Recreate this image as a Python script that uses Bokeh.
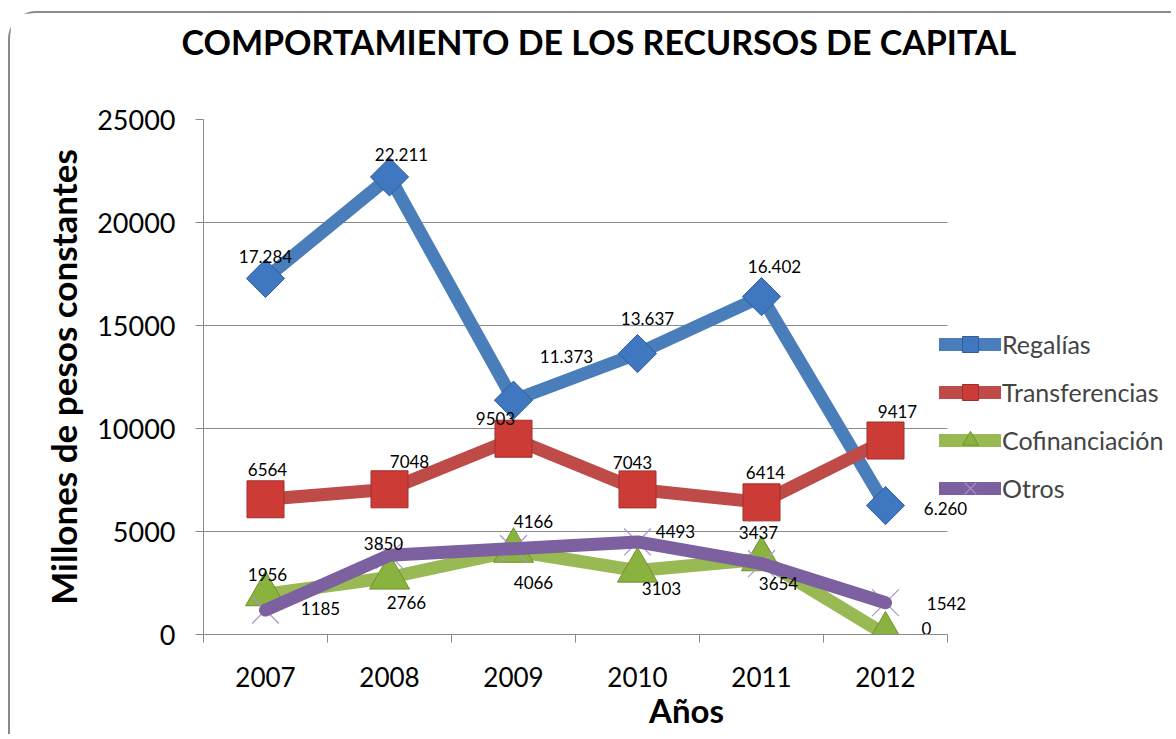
import math
from bokeh.plotting import figure
from bokeh.models import (Range1d, FixedTicker, Legend, LegendItem, ColumnDataSource, Title)
from bokeh.core.properties import value
from bokeh.embed import file_html
from bokeh.resources import INLINE

# ---- data ----
years = ["2007", "2008", "2009", "2010", "2011", "2012"]
regalias = [17284, 22211, 11373, 13637, 16402, 6260]
transferencias = [6564, 7048, 9503, 7043, 6414, 9417]
cofinanciacion = [1956, 2766, 4066, 3103, 3654, 0]
otros = [1185, 3850, 4166, 4493, 3437, 1542]
y_ticks = [0, 5000, 10000, 15000, 20000, 25000]

# label placement (screen px offsets)
off_reg = [(0, -22), (12, -22), (53, -44), (10, -35), (13, -30), (60, 3)]
off_tra = [(2, -30), (20, -28), (-18, -20), (-5, -27), (4, -30), (12, -29)]
off_cof = [(2, -20), (17, 25), (20, 32), (24, 18), (17, 24), (41, -6)]
off_otr = [(55, -2), (-6, -12), (20, -27), (38, -10), (-3, -31), (61, 1)]

FONT = "Lato"
LW = 13
idx = list(range(len(years)))
n = len(years)

W, H = 1163, 723
p = figure(width=W, height=H, output_backend="svg", toolbar_location=None,
           x_range=Range1d(-0.5, -0.5 + (W - 193 - 4) / 124.0), y_range=Range1d(0, 25000),
           min_border_left=193, min_border_right=4, min_border_top=106,
           min_border_bottom=102)
p.styles = {"border-left": "2px solid #8a8a8a", "border-top": "2px solid #8a8a8a",
            "border-top-left-radius": "28px", "margin-left": "8px", "margin-top": "11px"}
p.outline_line_color = None
p.background_fill_color = "white"
p.border_fill_color = "white"

p.title.text = "COMPORTAMIENTO DE LOS RECURSOS DE CAPITAL"
p.title.text_font = FONT
p.title.text_font_style = "bold"
p.title.text_font_size = "34px"
p.title.text_color = "black"
p.title.align = "left"
p.title.offset = -22
p.title.standoff = 0
# spacer between title and plot area
p.add_layout(Title(text=" ", text_font_size="2px", standoff=54), "above")

# axes
p.xaxis.ticker = FixedTicker(ticks=idx, minor_ticks=[i - 0.5 for i in range(n + 1)])
p.xaxis.bounds = (-0.5, n - 0.5)
p.xaxis.major_label_overrides = {i: y for i, y in enumerate(years)}
p.xaxis.major_tick_out = 0
p.xaxis.major_tick_in = 0
p.xaxis.minor_tick_out = 8
p.xaxis.minor_tick_in = 0
p.xaxis.minor_tick_line_color = "#8a8a8a"
p.xaxis.axis_line_color = "#8a8a8a"
p.xaxis.major_label_text_font = FONT
p.xaxis.major_label_text_font_size = "26px"
p.xaxis.major_label_text_color = "black"
p.xaxis.major_label_standoff = 24
p.xaxis.axis_label = "Años"
p.xaxis.axis_label_text_font = FONT
p.xaxis.axis_label_text_font_style = "bold"
p.xaxis.axis_label_text_font_size = "33px"
p.xaxis.axis_label_text_color = "black"
p.xaxis.axis_label_standoff = 0

p.yaxis.ticker = FixedTicker(ticks=y_ticks)
p.yaxis.minor_tick_line_color = None
p.yaxis.major_tick_out = 8
p.yaxis.major_tick_in = 0
p.yaxis.major_tick_line_color = "#8a8a8a"
p.yaxis.axis_line_color = "#8a8a8a"
p.yaxis.major_label_text_font = FONT
p.yaxis.major_label_text_font_size = "27px"
p.yaxis.major_label_text_color = "black"
p.yaxis.major_label_standoff = 20
p.yaxis.axis_label = "Millones de pesos constantes"
p.yaxis.axis_label_text_font = FONT
p.yaxis.axis_label_text_font_style = "bold"
p.yaxis.axis_label_text_font_size = "35px"
p.yaxis.axis_label_text_color = "black"
p.yaxis.axis_label_standoff = 10

p.xgrid.grid_line_color = None
p.ygrid.grid_line_color = "#8a8a8a"
p.ygrid.grid_line_width = 1
try:
    p.ygrid.cross_bounds = (-0.5, n - 0.5)
except Exception:
    p.ygrid.grid_line_color = None
    p.segment(x0=[-0.5] * len(y_ticks), x1=[n - 0.5] * len(y_ticks), y0=y_ticks, y1=y_ticks,
              line_color="#8a8a8a", line_width=1)

series = [
    ("Regalías", regalias, off_reg, True),
    ("Transferencias", transferencias, off_tra, False),
    ("Cofinanciación", cofinanciacion, off_cof, False),
    ("Otros", otros, off_otr, False),
]

items = []
# Regalías
r1l = p.line(idx, regalias, line_color="#4A7EBB", line_width=LW, line_cap="round", line_join="round")
r1m = p.scatter(idx, regalias, marker="square", angle=math.pi / 4, size=27,
                fill_color="#3F78C0", line_color="#2F5E9A", line_width=1)
items.append(LegendItem(label="Regalías", renderers=[r1l, r1m]))
# Transferencias
r2l = p.line(idx, transferencias, line_color="#BE4B48", line_width=LW, line_cap="round", line_join="round")
r2m = p.scatter(idx, transferencias, marker="square", size=37,
                fill_color="#CC3B36", line_color="#A22E2A", line_width=1)
items.append(LegendItem(label="Transferencias", renderers=[r2l, r2m]))
# Cofinanciación
r3l = p.line(idx, cofinanciacion, line_color="#98B954", line_width=LW, line_cap="round", line_join="round")
r3m = p.scatter(idx, cofinanciacion, marker="triangle", size=40,
                fill_color="#8AB23F", line_color="#6F9232", line_width=1)
items.append(LegendItem(label="Cofinanciación", renderers=[r3l, r3m]))
# Otros
r4m = p.scatter(idx, otros, marker="x", size=38, line_color="#A895CC", line_width=1.2)
r4l = p.line(idx, otros, line_color="#7D60A0", line_width=LW, line_cap="round", line_join="round")
items.append(LegendItem(label="Otros", renderers=[r4l, r4m]))

# data labels
def fmt(v, dotted):
    if dotted:
        return f"{v:,}".replace(",", ".")
    return str(v)

for name, vals, offs, dotted in series:
    src = ColumnDataSource(dict(x=idx, y=vals, t=[fmt(v, dotted) for v in vals],
                                dx=[o[0] for o in offs], dy=[o[1] for o in offs]))
    p.text(x="x", y="y", text="t", x_offset="dx", y_offset="dy", source=src,
           text_align="center", text_baseline="middle", text_font=value(FONT),
           text_font_size="17px", text_color="black")

legend = Legend(items=items, location=(736, 126), orientation="vertical",
                glyph_width=62, glyph_height=40, label_height=40, spacing=8,
                padding=0, margin=0, label_standoff=1,
                label_text_font=FONT, label_text_font_size="25px",
                border_line_color=None, background_fill_alpha=0)
p.add_layout(legend, "center")

open("out.html", "w").write(file_html(p, INLINE))
